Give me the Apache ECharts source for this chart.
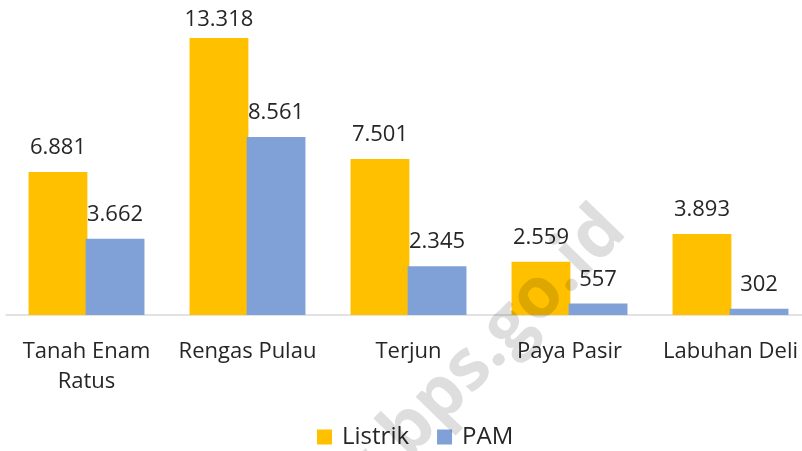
<!DOCTYPE html>
<html>
<head>
<meta charset="utf-8">
<script src="https://cdn.jsdelivr.net/npm/echarts@6/dist/echarts.min.js"></script>
<style>
  html, body { margin: 0; padding: 0; background: #fff; }
  #chart { width: 802px; height: 451px; }
</style>
</head>
<body>
<div id="chart"></div>
<script>
var categories = ['Tanah Enam\nRatus', 'Rengas Pulau', 'Terjun', 'Paya Pasir', 'Labuhan Deli'];
var listrik = [6881, 13318, 7501, 2559, 3893];
var pam = [3662, 8561, 2345, 557, 302];

var myChart = echarts.init(document.getElementById('chart'));

// angka pakai titik sebagai pemisah ribuan
function fmt(p) {
  return p.value.toLocaleString('de-DE');
}

// label batang tertinggi agak turun supaya tidak terpotong
var listrikData = listrik.map(function (v, i) {
  if (i === 1) return { value: v, label: { distance: 7 } };
  return v;
});

var option = {
  animation: false,
  textStyle: {
    fontFamily: 'Open Sans'
  },
  grid: {
    left: 6,
    right: -9,
    top: 3,
    bottom: 136,
    outerBoundsMode: 'none'
  },
  legend: {
    bottom: -3,
    left: 312,
    itemWidth: 15,
    itemHeight: 15,
    itemGap: 28,
    icon: 'rect',
    textStyle: {
      fontSize: 24,
      color: '#262626',
      padding: [0, 0, 0, 5]
    },
    data: ['Listrik', 'PAM']
  },
  xAxis: {
    type: 'category',
    data: categories,
    axisLine: {
      lineStyle: { color: '#d9d9d9', width: 1.5 }
    },
    axisTick: { show: false },
    axisLabel: {
      fontSize: 22,
      color: '#262626',
      margin: 22,
      lineHeight: 30,
      interval: 0
    }
  },
  yAxis: {
    type: 'value',
    show: false,
    min: 0,
    max: 15000
  },
  series: [
    {
      name: 'Listrik',
      type: 'bar',
      barGap: '-3%',
      barCategoryGap: '28%',
      itemStyle: { color: '#ffc000' },
      label: {
        show: true,
        position: 'top',
        distance: 13,
        fontSize: 22,
        color: '#262626',
        formatter: fmt
      },
      data: listrikData
    },
    {
      name: 'PAM',
      type: 'bar',
      itemStyle: { color: '#7fa1d7' },
      label: {
        show: true,
        position: 'top',
        distance: 13,
        fontSize: 22,
        color: '#262626',
        formatter: fmt
      },
      data: pam
    }
  ],
  graphic: [
    {
      type: 'text',
      x: 614,
      y: 219,
      rotation: 0.8,
      z: 100,
      silent: true,
      style: {
        text: 'www.bps.go.id',
        fontSize: 71,
        fontWeight: 'bold',
        fontFamily: 'Open Sans',
        fill: 'rgba(0,0,0,0.13)',
        align: 'right',
        verticalAlign: 'middle'
      }
    }
  ]
};

myChart.setOption(option);
</script>
</body>
</html>
